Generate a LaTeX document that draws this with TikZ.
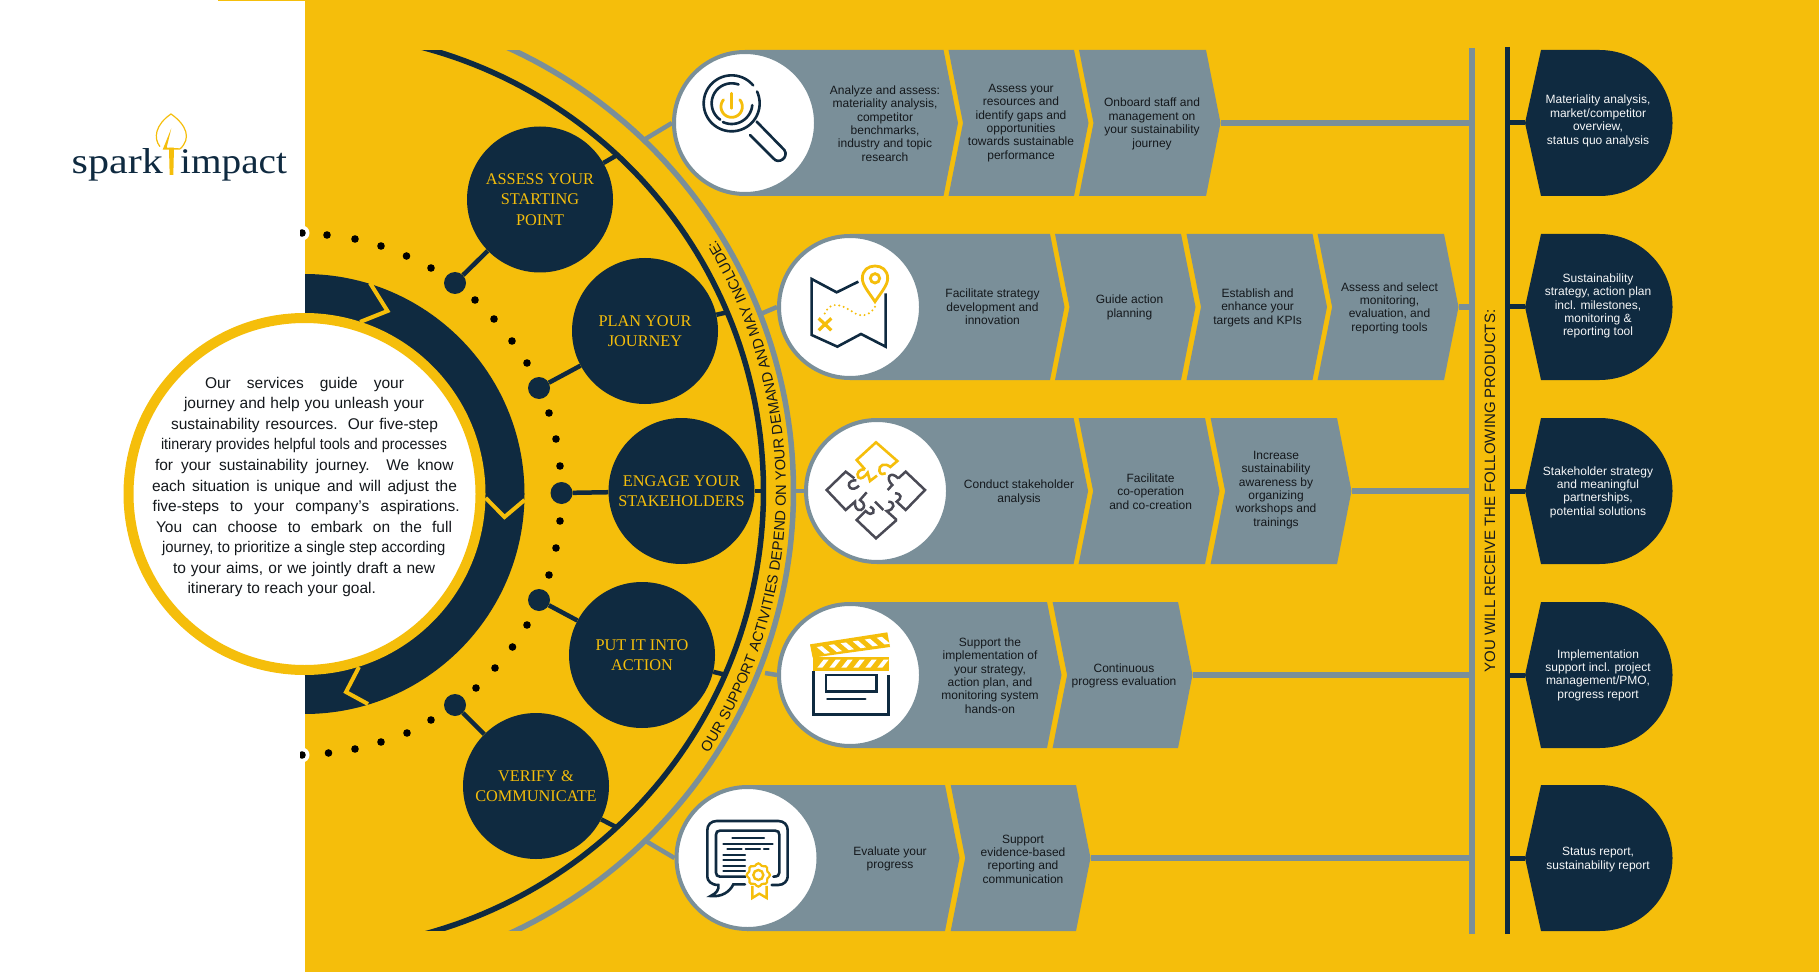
\documentclass[tikz,border=0pt]{standalone}
\usepackage{fontspec}
\usepackage{graphicx}
\setmainfont{Liberation Sans}
\newfontfamily\stepserif{Liberation Serif}
\usetikzlibrary{decorations.text,calc}
\definecolor{sunny}{HTML}{F5BE0B}
\definecolor{navyc}{HTML}{0F2A40}
\definecolor{slatec}{HTML}{7A8F99}
\definecolor{puzz}{HTML}{4A4A55}
\definecolor{bodyink}{HTML}{14181C}
\newcommand\mainfnt{\fontsize{15.5}{20}\selectfont\color{bodyink}}
\newcommand\jline[5]{%
  \node[jl] (#1) at (#2,#4) {\mainfnt\makebox[#3pt][s]{#5}};}
\newcommand\jfit[5]{%
  \node[jl] (#1) at (#2,#4) {\resizebox{#3pt}{\height}{\mainfnt #5}};}
\newcommand\chev[3]{%
  \fill[slatec] ({#1},{#3-73}) -- ({#2},{#3-73}) -- ({#2+14.5},{#3}) -- ({#2},{#3+73}) -- ({#1},{#3+73}) -- ({#1+14.5},{#3}) -- cycle;}
\newcommand\prodshape[1]{%
  \fill[navyc] (1541,{#1-73}) -- (1599.5,{#1-73}) .. controls (1639.8,{#1-73}) and (1672.5,{#1-40.3}) .. (1672.5,{#1}) .. controls (1672.5,{#1+40.3}) and (1639.8,{#1+73}) .. (1599.5,{#1+73}) -- (1541,{#1+73}) -- (1525,{#1}) -- cycle;}
\tikzset{
  stepc/.style={circle,fill=navyc,text=sunny,minimum size=146pt,inner sep=0pt,align=center,font=\stepserif\fontsize{16.3}{20.5}\selectfont},
  bigdot/.style={circle,fill=navyc,minimum size=22pt,inner sep=0pt},
  navyln/.style={draw=navyc,line width=4.5pt},
  slateln/.style={draw=slatec,line width=5.5pt},
  iconc/.style={circle,fill=white,draw=slatec,line width=4pt,minimum size=142pt,inner sep=0pt},
  bodytx/.style={align=center,inner sep=0pt,yshift=-1pt,text=bodyink,font=\fontsize{12}{13.4}\selectfont},
  prodtx/.style={align=center,inner sep=0pt,yshift=-1pt,text=white!93!slatec,font=\fontsize{12}{13.4}\selectfont},
  jl/.style={anchor=base west,inner sep=0pt,outer sep=0pt},
  nv/.style={draw=navyc,line width=2.6pt,line cap=round,line join=miter},
  yl/.style={draw=sunny,line width=2.8pt,line cap=round},
  gr/.style={draw=puzz,line width=2.5pt,line join=miter},
}
\begin{document}
\begin{tikzpicture}[x=1pt,y=-1pt]
\useasboundingbox (0,0) rectangle (1819,973);
% background
\fill[sunny] (305,0) rectangle (1819,972);
\fill[sunny] (218,0) rectangle (305,1);
% dark ring
\begin{scope}
  \clip (305,0) rectangle (800,973);
  \fill[navyc] (304.5,494) circle[radius=220];
\end{scope}
\draw[sunny,line width=4pt,line join=miter] (370,283) -- (387.5,311) -- (360,322);
\draw[sunny,line width=4pt,line join=miter] (485.7,498) -- (504.5,517) -- (524.6,500);
\draw[sunny,line width=4pt,line join=miter] (359,667) -- (346,692) -- (368,704);
% dotted arc
\fill[white] (302,233) circle[radius=7.5];
\fill[white] (302,755) circle[radius=7.5];
\begin{scope}
  \clip (300,0) rectangle (800,973);
  \foreach \p in {(302,233),(327,235),(355,239),(381,246),(406.5,256),(431,268),(475,300),(494,319),(512,341),(527,363),(549,413),(556,439),(560,466),(560,521),(556,548),(549,575),(527,625),(512.5,647),(495,668),(476,688),(431,720),(407,733),(381,742),(355,749),(328.5,753),(302,755)}
    \fill[black] \p circle[radius=3.8];
\end{scope}
\node[bigdot] (d1) at (455,283) {};
\node[bigdot] (d2) at (539,388) {};
\node[bigdot] (d3) at (561.5,493) {};
\node[bigdot] (d4) at (539,600) {};
\node[bigdot] (d5) at (455,705) {};
% big arcs
\begin{scope}
  \clip (300,51) rectangle (900,930);
  \draw[navyc,line width=5.5pt] plot[domain=-76:76,samples=120,variable=\t] ({304.5+459*cos(\t)},{491+459*sin(\t)});
  \draw[slatec,line width=5.5pt] plot[domain=-76:76,samples=120,variable=\t] ({304.5+489*cos(\t)},{491+487.5*sin(\t)});
\end{scope}
\path[decorate,decoration={text along path,text align=center,text={|\fontsize{14.7}{16}\selectfont\color{bodyink}|OUR SUPPORT ACTIVITIES DEPEND ON YOUR DEMAND AND MAY INCLUDE:}}]
  plot[domain=35:-33.5,samples=160,variable=\t] ({304.5+481.5*cos(\t)},{491+481.5*sin(\t)});
% step circles
\node[stepc] (s1) at (540,199.5) {ASSESS YOUR\\STARTING\\POINT};
\node[stepc] (s2) at (645,331) {PLAN YOUR\\JOURNEY};
\node[stepc] (s3) at (681.5,491) {ENGAGE YOUR\\STAKEHOLDERS};
\node[stepc] (s4) at (642,655) {PUT IT INTO\\ACTION};
\node[stepc] (s5) at (536,786) {VERIFY \&\\COMMUNICATE};
\coordinate (da1) at (619,154);
\coordinate (da2) at (728.5,312);
\coordinate (da3) at (763,491);
\coordinate (da4) at (726.5,675);
\coordinate (da5) at (618,828);
\foreach \i in {1,...,5}{
  \draw[navyln] (d\i) -- (s\i);
  \draw[navyln] (s\i) -- (da\i);
}
% vertical rails
\coordinate (vgt) at (1472,48);
\coordinate (vgb) at (1472,934);
\coordinate (vdt) at (1507.5,47);
\coordinate (vdb) at (1507.5,934);
\draw[slateln] (vgt) -- (vgb);
\draw[draw=navyc,line width=5.5pt] (vdt) -- (vdb);
% rows: chevrons
\chev{745}{943.5}{123}\chev{948.5}{1074}{123}\chev{1079}{1206}{123}
\chev{850}{1050}{307}\chev{1055}{1181}{307}\chev{1186.5}{1312.5}{307}\chev{1317.6}{1444}{307}
\chev{877}{1073.6}{491}\chev{1078.6}{1205}{491}\chev{1210.6}{1337}{491}
\chev{850}{1047}{675}\chev{1052.6}{1178}{675}
\chev{747}{945}{858}\chev{950.7}{1076}{858}
\node[iconc] (i1) at (745,123) {};
\node[iconc] (i2) at (850,307) {};
\node[iconc] (i3) at (877,491) {};
\node[iconc] (i4) at (850,675) {};
\node[iconc] (i5) at (747.5,858) {};
\coordinate (ga1) at (642,141);
\coordinate (ga2) at (760.5,314);
\coordinate (ga3) at (793,491);
\coordinate (ga4) at (765,673);
\coordinate (ga5) at (644,840);
\foreach \i in {1,...,5}{\draw[draw=slatec,line width=4.5pt] (ga\i) -- (i\i.west);}
\coordinate (tip1) at (1220.5,123);
\coordinate (tip2) at (1458.5,307);
\coordinate (tip3) at (1351.5,491);
\coordinate (tip4) at (1192.5,675);
\coordinate (tip5) at (1090.5,858);
\foreach \i in {1,...,5}{\draw[slateln] (tip\i) -- (tip\i -| vgt);}
% products
\foreach \c in {123,307,491,675,858}{\prodshape{\c}}
\foreach \i/\c in {1/123,2/307,3/491,4/675,5/858}{
  \coordinate (pl\i) at (1525,\c);
  \draw[draw=navyc,line width=5pt] (pl\i -| vdt) -- (pl\i);
}
% main white circle
\node[circle,fill=white,draw=sunny,line width=10pt,minimum size=352pt,inner sep=0pt] (hub) at (304.5,494) {};
\jline{m1}{205}{199}{388.5}{Our services guide your}
\jline{m2}{184}{240}{408.5}{journey and help you unleash your}
\jline{m3}{171}{267}{429.5}{sustainability resources. Our five-step}
\jfit{m4}{161}{286}{449.5}{itinerary provides helpful tools and processes}
\jline{m5}{155}{298.5}{470.5}{for your sustainability journey. We know}
\jline{m6}{152}{305}{491.5}{each situation is unique and will adjust the}
\jline{m7}{152.7}{307}{511.5}{five-steps to your company’s aspirations.}
\jline{m8}{156}{296}{532.5}{You can choose to embark on the full}
\jfit{m9}{162}{283.5}{552.5}{journey, to prioritize a single step according}
\jline{m10}{173}{262}{573.5}{to your aims, or we jointly draft a new}
\jline{m11}{187.5}{188.5}{593.5}{itinerary to reach your goal.}
% icon 1: magnifier
\begin{scope}[shift={(690,70)},x=0.3333pt,y=-0.3333pt]
  \draw[nv] plot[domain=-25:320,samples=60,variable=\t] ({125+84*cos(\t)},{100+84*sin(\t)});
  \draw[nv] plot[domain=125:290,samples=40,variable=\t] ({125+60*cos(\t)},{100+60*sin(\t)});
  \draw[nv] plot[domain=5:115,samples=30,variable=\t] ({125+62*cos(\t)},{100+62*sin(\t)});
  \draw[nv] (200,155) -- (283,240) .. controls (298,262) and (265,285) .. (250,265) -- (180,195);
  \draw[yl] plot[domain=-40:220,samples=40,variable=\t] ({125+32*cos(\t)},{110+32*sin(\t)});
  \draw[yl] (125,70) -- (125,115);
\end{scope}
% icon 2: map
\begin{scope}[shift={(800,255)},x=0.3333pt,y=-0.3333pt]
  \draw[nv,line cap=butt] (175,80) -- (110,112) -- (35,72) -- (35,240) -- (112,275) -- (183,237) -- (257,275) -- (257,115);
  \draw[yl,line join=miter] (225,140) .. controls (205,110) and (187,90) .. (187,70) .. controls (187,45) and (205,33) .. (225,33) .. controls (245,33) and (263,45) .. (263,70) .. controls (263,90) and (245,110) .. (225,140) -- cycle;
  \draw[yl] (225,70) circle[radius=14];
  \draw[draw=sunny,line width=2.2pt,line cap=round,dash pattern=on 0pt off 4.6pt] (225,155) .. controls (215,175) and (190,190) .. (165,175) .. controls (140,160) and (120,145) .. (95,152) .. controls (80,158) and (75,175) .. (70,185);
  \draw[draw=sunny,line width=3.2pt] (56,190) -- (94,226) (94,190) -- (56,226);
\end{scope}
% icon 3: puzzle
\begin{scope}[shift={(815,435)},x=0.3333pt,y=-0.3333pt]
  \draw[draw=sunny,line width=2.6pt] (150,103) -- (125,75) -- (183,22) -- (247,78) -- (226,96) .. controls (210,82) and (190,90) .. (193,108) .. controls (196,120) and (205,118) .. (212,115);
  \draw[draw=sunny,line width=2.6pt] (150,103) .. controls (135,100) and (122,115) .. (130,127) .. controls (138,135) and (150,125) .. (158,113) -- (165,138) -- (186,122);
  \draw[gr] (124,136) .. controls (100,135) and (98,150) .. (105,158) .. controls (112,165) and (125,160) .. (132,152) (118,130) -- (92,110) -- (35,165) -- (92,225) -- (120,200) .. controls (118,215) and (125,228) .. (138,225) .. controls (150,220) and (152,205) .. (135,195) -- (155,172);
  \draw[gr] (250,130) -- (272,110) -- (330,165) -- (272,225) -- (245,200) .. controls (262,190) and (260,175) .. (240,175) (250,130) .. controls (225,105) and (210,130) .. (232,150) -- (218,165);
  \draw[gr] (245,255) -- (183,310) -- (125,255) -- (152,228) .. controls (172,250) and (188,225) .. (165,215) (245,255) -- (215,228) .. controls (240,225) and (242,200) .. (220,200) (180,200) -- (205,225);
\end{scope}
% icon 4: clapperboard
\begin{scope}[shift={(800,625)},x=0.3333pt,y=-0.3333pt]
  \draw[nv,line cap=butt] (40,138) -- (40,268) -- (265,268) -- (265,150);
  \draw[nv,line cap=butt] (78,150) rectangle (230,200);
  \draw[nv] (82,222) -- (196,222);
  \fill[sunny] (38,95) rectangle (268,137);
  \fill[sunny] (30,58) -- (262,22) -- (270,66) -- (38,98) -- cycle;
  \foreach \i in {0,...,5}{
    \fill[white] ({52+36*\i},128) -- ({67+36*\i},128) -- ({86+36*\i},104) -- ({71+36*\i},104) -- cycle;
    \fill[white] ({50+36*\i},{66-5.6*\i}) -- ({66+36*\i},{63.5-5.6*\i}) -- ({90+36*\i},{84-5.6*\i}) -- ({74+36*\i},{86.5-5.6*\i}) -- cycle;
  }
\end{scope}
% icon 5: certificate bubble
\begin{scope}[shift={(650,760)},x=0.3333pt,y=-0.3333pt]
  \draw[nv] (365,375) -- (385,375) .. controls (402,375) and (413,362) .. (413,350) -- (413,210) .. controls (413,195) and (402,183) .. (385,183) -- (200,183) .. controls (183,183) and (172,195) .. (172,210) -- (172,350) .. controls (172,362) and (183,375) .. (205,375) .. controls (208,390) and (198,400) .. (182,408) .. controls (215,412) and (240,395) .. (250,373) -- (285,373);
  \draw[nv] (295,350) -- (210,350) .. controls (202,350) and (198,345) .. (198,338) -- (198,224) .. controls (198,216) and (202,212) .. (210,212) -- (376,212) .. controls (384,212) and (388,216) .. (388,224) -- (388,338) .. controls (388,345) and (384,350) .. (370,350);
  \draw[nv,line width=2.2pt] (247,235) -- (342,235) (220,252) -- (368,252) (232,268) -- (275,268) (287,268) -- (330,268) (342,268) -- (356,268) (220,285) -- (285,285) (220,301) -- (285,301) (220,317) -- (285,317) (220,332) -- (285,332);
  \fill[white] (325,345) circle[radius=38];
  \draw[draw=sunny,line width=2.2pt] plot[smooth cycle,domain=0:350,samples=36,variable=\t] ({325+(32+3*cos(8*\t))*cos(\t)},{345+(32+3*cos(8*\t))*sin(\t)});
  \draw[draw=sunny,line width=2.4pt] (325,345) circle[radius=15];
  \draw[draw=sunny,line width=2.4pt,line join=miter] (307,378) -- (307,414) -- (328,401) -- (350,414) -- (350,378);
\end{scope}
% logo
\begin{scope}[shift={(60,105)},x=0.3333pt,y=-0.3333pt]
  \draw[draw=sunny,line width=1.2pt] (300,125) .. controls (280,100) and (285,60) .. (333,27) .. controls (380,60) and (395,100) .. (360,132);
  \fill[sunny] (334,70) -- (308,134) -- (360,134) -- (360,130) -- (320,128) -- cycle;
  \fill[sunny] (327,128) -- (342,128) -- (340,210) -- (329,210) -- cycle;
\end{scope}
\node[anchor=base west,inner sep=0pt,text=navyc] (logoa) at (71.5,173.5) {\scalebox{1.17}[1]{\stepserif\fontsize{36}{36}\selectfont spark}};
\node[anchor=base west,inner sep=0pt,text=navyc] (logob) at (180,173.5) {\scalebox{1.09}[1]{\stepserif\fontsize{36}{36}\selectfont impact}};
% row text
\node[bodytx] (t11) at (885,122.5) {Analyze and assess:\\materiality analysis,\\competitor\\benchmarks,\\industry and topic\\research};
\node[bodytx] (t12) at (1021,122) {Assess your\\resources and\\identify gaps and\\opportunities\\towards sustainable\\performance};
\node[bodytx] (t13) at (1152,123) {Onboard staff and\\management on\\your sustainability\\journey};
\node[bodytx] (t21) at (992.5,306) {Facilitate strategy\\development and\\innovation};
\node[bodytx] (t22) at (1129.5,306.5) {Guide action\\planning};
\node[bodytx] (t23) at (1257.6,306.5) {Establish and\\enhance your\\targets and KPIs};
\node[bodytx] (t24) at (1389.5,307) {Assess and select\\monitoring,\\evaluation, and\\reporting tools};
\node[bodytx] (t31) at (1019,491.5) {Conduct stakeholder\\analysis};
\node[bodytx] (t32) at (1150.6,490.5) {Facilitate\\co-operation\\and co-creation};
\node[bodytx] (t33) at (1276,489) {Increase\\sustainability\\awareness by\\organizing\\workshops and\\trainings};
\node[bodytx] (t41) at (990,674.5) {Support the\\implementation of\\your strategy,\\action plan, and\\monitoring system\\hands-on};
\node[bodytx] (t42) at (1124,675) {Continuous\\progress evaluation};
\node[bodytx] (t51) at (890,858) {Evaluate your\\progress};
\node[bodytx] (t52) at (1023,858) {Support\\evidence-based\\reporting and\\communication};
\node[prodtx] (p1) at (1598,120) {Materiality analysis,\\market/competitor\\overview,\\status quo analysis};
\node[prodtx] (p2) at (1598,305) {Sustainability\\strategy, action plan\\incl. milestones,\\monitoring \&\\reporting tool};
\node[prodtx] (p3) at (1598,491) {Stakeholder strategy\\and meaningful\\partnerships,\\potential solutions};
\node[prodtx] (p4) at (1598,674) {Implementation\\support incl. project\\management/PMO,\\progress report};
\node[prodtx] (p5) at (1598,858.5) {Status report,\\sustainability report};
\node[rotate=90,inner sep=0pt,text=bodyink,font=\fontsize{15}{16}\selectfont] (vt) at (1490,491) {YOU WILL RECEIVE THE FOLLOWING PRODUCTS:};
\end{tikzpicture}
\end{document}
